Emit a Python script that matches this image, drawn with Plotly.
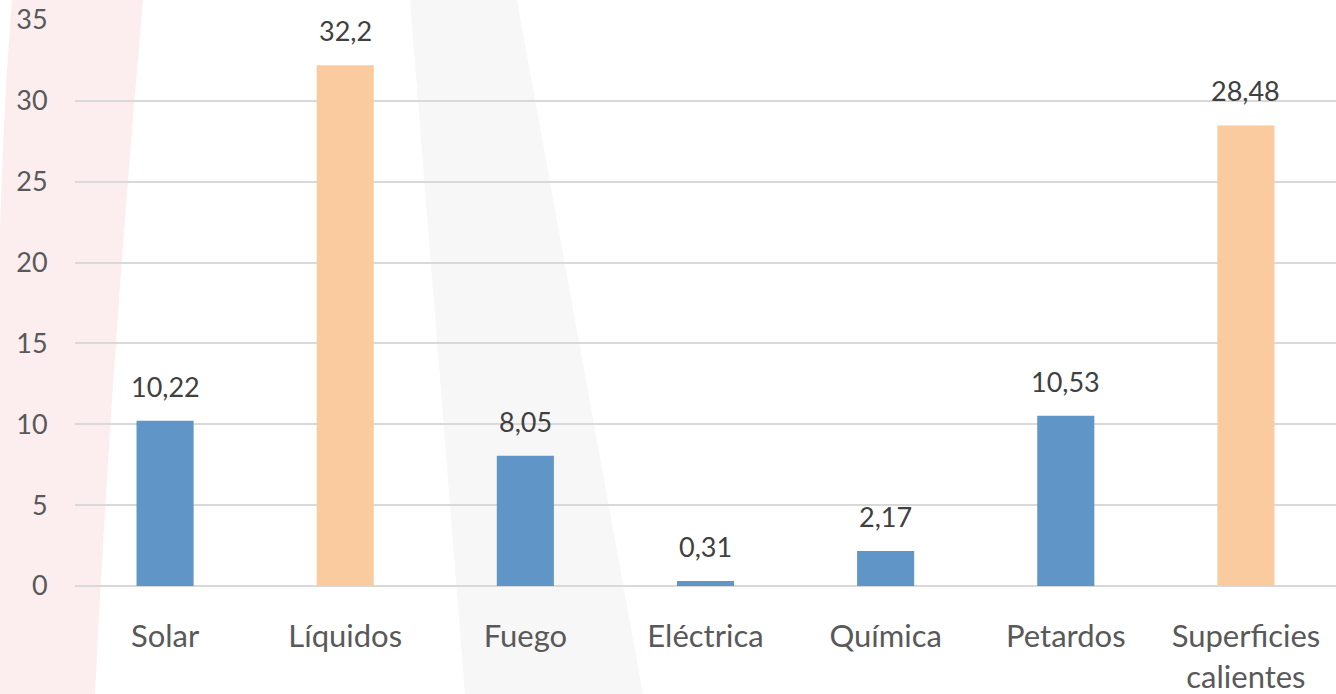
import plotly.graph_objects as go

categories = ["Solar", "Líquidos", "Fuego", "Eléctrica", "Química", "Petardos", "Superficies<br>calientes"]
values = [10.22, 32.2, 8.05, 0.31, 2.17, 10.53, 28.48]
bar_colors = ["#5F95C7", "#FACB9F", "#5F95C7", "#5F95C7", "#5F95C7", "#5F95C7", "#FACB9F"]
y_ticks = [0, 5, 10, 15, 20, 25, 30, 35]

W, H = 1336, 694
ML, MR, MT, MB = 75, 0, 20, 108
PW, PH = W - ML - MR, H - MT - MB


def px(x):
    return (x - ML) / PW


def py(y):
    return (H - MB - y) / PH


def path(cmds):
    out = []
    for cmd, *pts in cmds:
        coords = [f"{px(x):.5f},{py(y):.5f}" for (x, y) in pts]
        out.append(cmd + " ".join(coords))
    return " ".join(out) + " Z"


pink_path = path([
    ("M", (12, 0)),
    ("L", (143, 0)),
    ("Q", (112, 350), (95, 694)),
    ("L", (0, 694)),
    ("L", (0, 230)),
    ("Q", (4, 100), (12, 0)),
])
gray_path = path([
    ("M", (410, 0)),
    ("L", (517, 0)),
    ("L", (643, 694)),
    ("L", (465, 694)),
])

labels = [f"{v:g}".replace(".", ",") for v in values]

fig = go.Figure(
    go.Bar(
        x=categories,
        y=values,
        marker=dict(color=bar_colors, line=dict(width=0)),
        hoverinfo="x+y",
    )
)

annotations = [
    dict(x=c, y=v, xref="x", yref="y", text=t, showarrow=False,
         yanchor="bottom", xanchor="center", yshift=16,
         font=dict(family="Lato", size=27, color="#404040"))
    for c, v, t in zip(categories, values, labels)
]

fig.update_layout(
    width=W,
    height=H,
    margin=dict(l=ML, r=MR, t=MT, b=MB, pad=0, autoexpand=False),
    paper_bgcolor="white",
    plot_bgcolor="rgba(0,0,0,0)",
    bargap=0.683,
    showlegend=False,
    font=dict(family="Lato", color="#595959"),
    annotations=annotations,
    shapes=[
        dict(type="path", path=pink_path, xref="paper", yref="paper",
             fillcolor="#FCEEEE", line=dict(width=0), layer="below"),
        dict(type="path", path=gray_path, xref="paper", yref="paper",
             fillcolor="#F7F7F7", line=dict(width=0), layer="below"),
    ],
)

fig.update_xaxes(
    range=[-0.5, 6.5],
    automargin=False,
    showgrid=False,
    showline=False,
    zeroline=False,
    ticks="outside",
    ticklen=23,
    tickcolor="rgba(0,0,0,0)",
    tickfont=dict(family="Lato", size=31, color="#595959"),
    fixedrange=True,
)
fig.update_yaxes(
    range=[0, 35],
    automargin=False,
    tickvals=y_ticks,
    showgrid=True,
    gridcolor="#D9D9D9",
    gridwidth=1.5,
    zeroline=True,
    zerolinecolor="#D9D9D9",
    zerolinewidth=1.5,
    showline=False,
    ticks="outside",
    ticklen=21,
    tickcolor="rgba(0,0,0,0)",
    tickfont=dict(family="Lato", size=27, color="#595959"),
    fixedrange=True,
)

fig.write_html(
    "out.html",
    config={"displayModeBar": False},
    post_script="document.body.style.margin='0';document.body.style.overflow='hidden';",
)
